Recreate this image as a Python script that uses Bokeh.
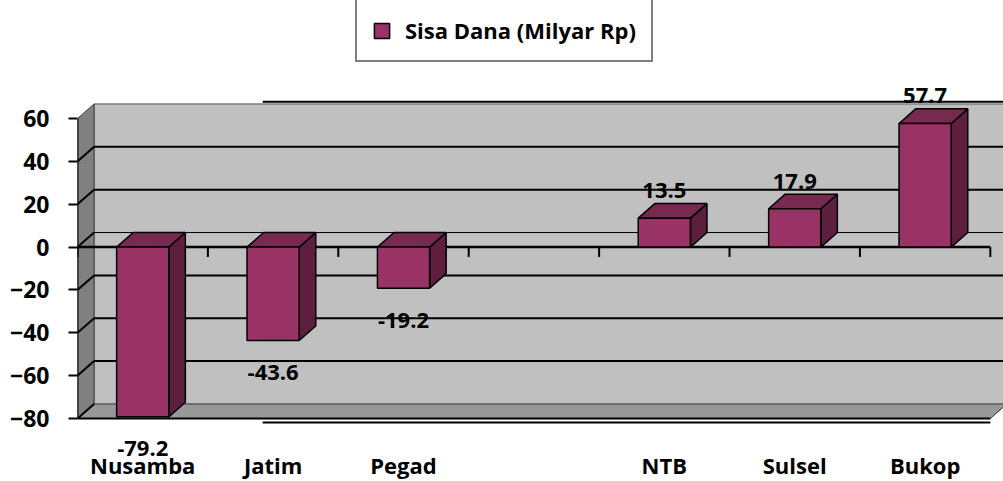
from bokeh.plotting import figure
from bokeh.models import Range1d, FixedTicker, Legend, LegendItem
from bokeh.embed import file_html
from bokeh.resources import INLINE
from bokeh.core.properties import value

# ---------------- data ----------------
categories = ["Nusamba", "Jatim", "Pegad", "", "NTB", "Sulsel", "Bukop"]
sisa_dana = [-79.2, -43.6, -19.2, None, 13.5, 17.9, 57.7]
y_ticks = [-80, -60, -40, -20, 0, 20, 40, 60]
series_name = "Sisa Dana (Milyar Rp)"

# ---------------- layout / style ----------------
W, H = 1003, 481
LEFT = 77
X_RANGE = (0, 7.101)
Y_RANGE = (-109.38, 115.07)
DX, DY = 0.127, 6.8          # 3D depth offset (category units, value units)
BAR_W = 0.40
TICK = 4.6                   # x tick length in value units
FONT = "Open Sans"
FS = "22px"

FRONT = "#993366"
SIDE = "#5E1E3E"
TOP = "#772950"
WALL = "#C0C0C0"
SIDEWALL = "#808080"
FLOOR = "#989898"

n = len(categories)
ymin, ymax = min(y_ticks), max(y_ticks)
xend = X_RANGE[1] + 0.5

p = figure(width=W, height=H, x_range=Range1d(*X_RANGE), y_range=Range1d(*Y_RANGE),
           output_backend="svg", toolbar_location=None, x_axis_location=None,
           min_border_left=LEFT, min_border_right=0, min_border_top=0, min_border_bottom=0)
p.outline_line_color = None
p.grid.visible = False
p.background_fill_color = "white"

ax = p.yaxis[0]
ax.ticker = FixedTicker(ticks=y_ticks)
ax.minor_tick_line_color = None
ax.major_tick_in = 0
ax.major_tick_out = 9
ax.major_tick_line_width = 2
ax.major_tick_line_color = "black"
ax.axis_line_color = None
ax.major_label_text_font = FONT
ax.major_label_text_font_size = "23px"
ax.major_label_text_font_style = "bold"
ax.major_label_text_color = "black"
ax.major_label_standoff = 19

# back wall
p.quad(left=DX, right=xend, bottom=ymin + DY, top=ymax + DY, fill_color=WALL, line_color=None)
p.segment(x0=DX, y0=ymax + DY, x1=xend, y1=ymax + DY, line_color="#505050", line_width=1)
p.segment(x0=DX, y0=ymin + DY, x1=DX, y1=ymax + DY, line_color="#505050", line_width=1)
# side wall
p.patch([0, DX, DX, 0], [ymin, ymin + DY, ymax + DY, ymax], fill_color=SIDEWALL,
        line_color="#404040", line_width=1)
# floor
p.patch([0, n, n + DX, DX], [ymin, ymin, ymin + DY, ymin + DY], fill_color=FLOOR,
        line_color="#303030", line_width=1)

# gridlines on back wall + side wall
grid_t = [t for t in y_ticks if t not in (ymin, ymax)]
p.segment(x0=[DX] * len(grid_t), y0=[t + DY for t in grid_t], x1=[xend] * len(grid_t),
          y1=[t + DY for t in grid_t], line_color="black",
          line_width=[1 if t == 0 else 2 for t in grid_t])
side_t = [t for t in y_ticks if t != ymax]
p.segment(x0=[0] * len(side_t), y0=side_t, x1=[DX] * len(side_t), y1=[t + DY for t in side_t],
          line_color="black", line_width=2)

# front edges: value axis line, floor front edge
p.segment(x0=0, y0=ymin, x1=0, y1=ymax, line_color="black", line_width=2)
p.segment(x0=0, y0=ymin, x1=n, y1=ymin, line_color="black", line_width=2)
# chart-area border fragments
p.line(x=[1.42, xend], y=[ymax + DY + 1.0, ymax + DY + 1.0], line_color="black", line_width=2)
p.line(x=[1.42, n], y=[ymin - 1.9, ymin - 1.9], line_color="black", line_width=2)

# category axis at zero
p.segment(x0=0, y0=0, x1=n, y1=0, line_color="black", line_width=2.5)
p.segment(x0=list(range(n + 1)), y0=[0] * (n + 1), x1=list(range(n + 1)), y1=[-TICK] * (n + 1),
          line_color="black", line_width=2)

# bars
cx, lo, hi, vals = [], [], [], []
for i, v in enumerate(sisa_dana):
    if v is None:
        continue
    cx.append(i + 0.5)
    lo.append(min(0, v))
    hi.append(max(0, v))
    vals.append(v)

side_xs = [[c + BAR_W / 2, c + BAR_W / 2 + DX, c + BAR_W / 2 + DX, c + BAR_W / 2] for c in cx]
side_ys = [[a, a + DY, b + DY, b] for a, b in zip(lo, hi)]
top_xs = [[c - BAR_W / 2, c + BAR_W / 2, c + BAR_W / 2 + DX, c - BAR_W / 2 + DX] for c in cx]
top_ys = [[b, b, b + DY, b + DY] for b in hi]
p.patches(side_xs, side_ys, fill_color=SIDE, line_color="black", line_width=1.5)
p.patches(top_xs, top_ys, fill_color=TOP, line_color="black", line_width=1.5)
front = p.quad(left=[c - BAR_W / 2 for c in cx], right=[c + BAR_W / 2 for c in cx],
               bottom=lo, top=hi, fill_color=FRONT, line_color="black", line_width=1.5)

# data labels
pos = [(c, v) for c, v in zip(cx, vals) if v >= 0]
neg = [(c, v) for c, v in zip(cx, vals) if v < 0]
p.text(x=[c for c, v in pos], y=[v + DY for c, v in pos], text=[f"{v:.1f}" for c, v in pos],
       text_align="center", text_baseline="alphabetic", y_offset=-13,
       text_font=value(FONT), text_font_style="bold", text_font_size=FS, text_color="black")
p.text(x=[c for c, v in neg], y=[v for c, v in neg], text=[f"{v:.1f}" for c, v in neg],
       text_align="center", text_baseline="alphabetic", y_offset=32,
       text_font=value(FONT), text_font_style="bold", text_font_size=FS, text_color="black")

# category labels
p.text(x=[i + 0.5 for i in range(n)], y=[ymin] * n, text=categories,
       text_align="center", text_baseline="alphabetic", y_offset=46,
       text_font=value(FONT), text_font_style="bold", text_font_size=FS, text_color="black")

# legend
legend = Legend(items=[LegendItem(label=series_name, renderers=[front])],
                location=(278, 419), orientation="horizontal",
                border_line_color="black", border_line_width=2, background_fill_color="white",
                background_fill_alpha=1, padding=15, margin=0, glyph_width=19, glyph_height=19,
                label_standoff=14, label_text_font=FONT, label_text_font_style="bold",
                label_text_font_size=FS, label_text_color="black", label_height=20)
p.add_layout(legend)

open("out.html", "w").write(file_html(p, INLINE))
